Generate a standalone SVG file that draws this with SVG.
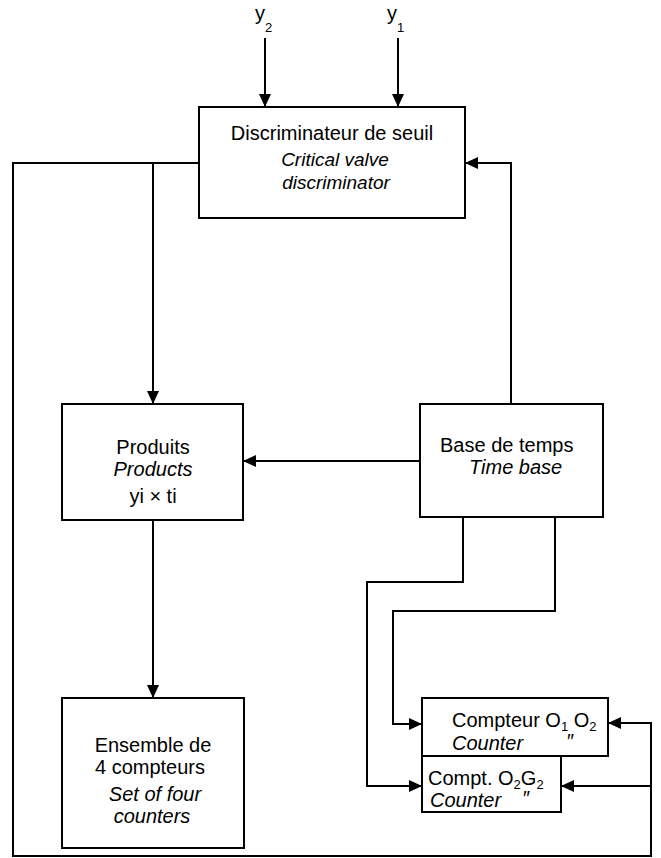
<svg xmlns="http://www.w3.org/2000/svg" width="661" height="858" viewBox="0 0 661 858">
<defs>
<marker id="ah" markerUnits="userSpaceOnUse" markerWidth="14" markerHeight="12" refX="13" refY="6" orient="auto">
<path d="M0,0 L13,6 L0,12 z" fill="#000"/>
</marker>
<style>
.box{fill:#fff;stroke:#000;stroke-width:2}
.ln{fill:none;stroke:#000;stroke-width:2}
.t{font-family:"Liberation Sans",Arial,sans-serif;font-size:20px;fill:#000}
.c{text-anchor:middle}
.i{font-style:italic}
.s{font-size:13px}
</style>
</defs>
<rect width="661" height="858" fill="#fff"/>
<g id="connectors">
<path class="ln" d="M265,38 V107" marker-end="url(#ah)"/>
<path class="ln" d="M398,38 V107" marker-end="url(#ah)"/>
<path class="ln" d="M199,163 H13 V856 H651 V723 H608" marker-end="url(#ah)"/>
<path class="ln" d="M651,786 H561" marker-end="url(#ah)"/>
<path class="ln" d="M153,163 V404" marker-end="url(#ah)"/>
<path class="ln" d="M511,404 V163 H465" marker-end="url(#ah)"/>
<path class="ln" d="M420,461 H243" marker-end="url(#ah)"/>
<path class="ln" d="M153,520 V698" marker-end="url(#ah)"/>
<path class="ln" d="M463,517 V582 H367 V786 H422" marker-end="url(#ah)"/>
<path class="ln" d="M555,517 V611 H393 V724 H422" marker-end="url(#ah)"/>
</g>
<g id="inputs">
<text class="t" x="255" y="20">y<tspan class="s" dy="12">2</tspan></text>
<text class="t" x="387" y="20">y<tspan class="s" dy="12">1</tspan></text>
</g>
<g id="discriminator">
<rect class="box" x="199" y="107" width="266" height="111"/>
<text class="t c" x="332" y="140">Discriminateur de seuil</text>
<text class="t c i" x="335" y="166" style="font-size:19px">Critical valve</text>
<text class="t c i" x="336" y="189" style="font-size:19px">discriminator</text>
</g>
<g id="products">
<rect class="box" x="62" y="404" width="181" height="116"/>
<text class="t c" x="153" y="454">Produits</text>
<text class="t c i" x="153" y="476">Products</text>
<text class="t c" x="153" y="503">yi × ti</text>
</g>
<g id="timebase">
<rect class="box" x="420" y="404" width="183" height="113"/>
<text class="t" x="440" y="452">Base de temps</text>
<text class="t i" x="469" y="474">Time base</text>
</g>
<g id="ensemble">
<rect class="box" x="62" y="698" width="182" height="150"/>
<text class="t c" x="153" y="752">Ensemble de</text>
<text class="t c" x="150" y="774">4 compteurs</text>
<text class="t c i" x="155" y="801">Set of four</text>
<text class="t c i" x="152" y="823">counters</text>
</g>
<g id="counter1">
<rect class="box" x="422" y="698" width="186" height="58"/>
<text class="t" x="452" y="727">Compteur O<tspan class="s" dy="4">1</tspan><tspan dy="-4"> O</tspan><tspan class="s" dy="4">2</tspan></text>
<text class="t i" x="452" y="750">Counter<tspan x="566" dy="-2">″</tspan></text>
</g>
<g id="counter2">
<rect class="box" x="422" y="756" width="139" height="56"/>
<text class="t" x="428" y="785">Compt. O<tspan class="s" dy="4">2</tspan><tspan dy="-4">G</tspan><tspan class="s" dy="4">2</tspan></text>
<text class="t i" x="430" y="807">Counter<tspan x="522" dy="-2">″</tspan></text>
</g>
</svg>
